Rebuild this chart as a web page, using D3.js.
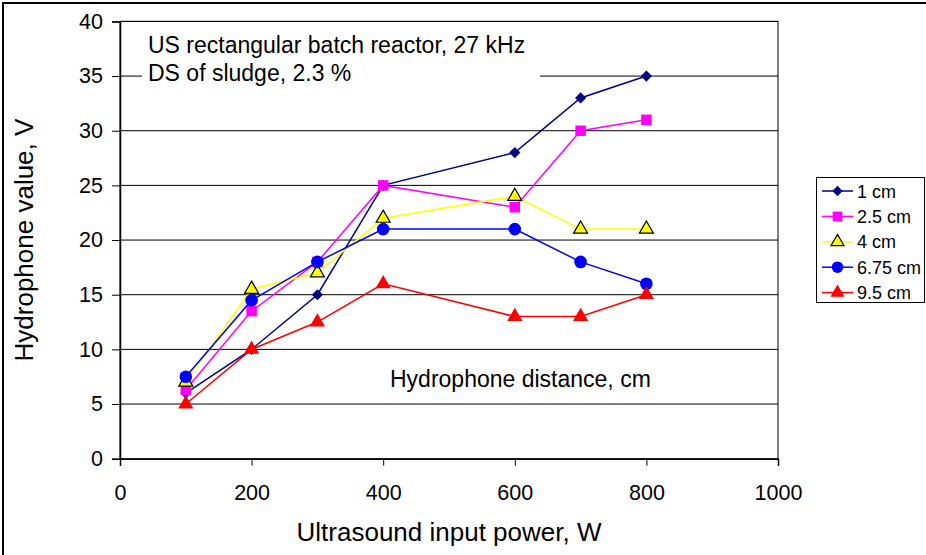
<!DOCTYPE html>
<html><head><meta charset="utf-8">
<script src="https://cdn.jsdelivr.net/npm/d3@7"></script>
<style>body{margin:0;background:#fff}svg{display:block}text{font-family:"Liberation Sans",Arial,sans-serif;fill:#000}</style>
</head><body><svg id="c" width="926" height="555"></svg>
<script>
const powers = [100, 200, 300, 400, 600, 700, 800];
const seriesNames = ["1 cm", "2.5 cm", "4 cm", "6.75 cm", "9.5 cm"];
const v1 = [6, 10, 15, 25, 28, 33, 35];
const v25 = [6.3, 13.5, 18, 25, 23, 30, 31];
const v4 = [7, 15.5, 17, 22, 24, 21, 21];
const v675 = [7.5, 14.5, 18, 21, 21, 18, 16];
const v95 = [5, 10, 12.5, 16, 13, 13, 15];
const xTicks = [0, 200, 400, 600, 800, 1000];
const yTicks = [0, 5, 10, 15, 20, 25, 30, 35, 40];

const styles = [
  {color: "#000080", sym: d3.symbolSquare, size: 62, rot: 45, stroke: "none"},
  {color: "#FF00FF", sym: d3.symbolSquare, size: 110, rot: 0, stroke: "none"},
  {color: "#FFFF00", sym: d3.symbolTriangle, size: 85, rot: 0, stroke: "#000"},
  {color: "#0000FF", sym: d3.symbolCircle, size: 125, rot: 0, stroke: "none"},
  {color: "#FF0000", sym: d3.symbolTriangle, size: 100, rot: 0, stroke: "none"}
];
const allVals = [v1, v25, v4, v675, v95];

const svg = d3.select("#c");
const L = 120, R = 778, T = 21.4, B = 458.7;
const x = d3.scaleLinear().domain([0, 1000]).range([L, R]);
const y = d3.scaleLinear().domain([0, 40]).range([B, T]);

// outer border
svg.append("rect").attr("x", 3).attr("y", 3).attr("width", 940).attr("height", 570)
  .attr("fill", "none").attr("stroke", "#000").attr("stroke-width", 2);

// gridlines
svg.append("g").selectAll("line").data(yTicks.slice(1)).join("line")
  .attr("x1", L).attr("x2", R).attr("y1", d => y(d)).attr("y2", d => y(d))
  .attr("stroke", "#000").attr("stroke-width", 1);

// plot border
svg.append("rect").attr("x", L).attr("y", T).attr("width", R - L).attr("height", B - T)
  .attr("fill", "none").attr("stroke", "#000").attr("stroke-width", 1);

// annotation background
svg.append("rect").attr("x", 142).attr("y", 30).attr("width", 398).attr("height", 62).attr("fill", "#fff");
svg.append("text").attr("x", 148).attr("y", 53).attr("font-size", 23).text("US rectangular batch reactor, 27 kHz");
svg.append("text").attr("x", 148).attr("y", 81).attr("font-size", 23).text("DS of sludge, 2.3 %");
svg.append("text").attr("x", 390).attr("y", 387).attr("font-size", 23).text("Hydrophone distance, cm");

// axes
const xa = svg.append("g").attr("transform", `translate(0,${B})`)
  .call(d3.axisBottom(x).tickValues(xTicks).tickSize(7).tickPadding(19).tickFormat(d3.format("d")));
const ya = svg.append("g").attr("transform", `translate(${L},0)`)
  .call(d3.axisLeft(y).tickValues(yTicks).tickSize(8).tickPadding(9).tickFormat(d3.format("d")));
[xa, ya].forEach(a => {
  a.select(".domain").attr("stroke", "#000").attr("stroke-width", 1.5);
  a.selectAll(".tick line").attr("stroke", "#000");
  a.selectAll(".tick text").attr("font-size", 21.5).attr("font-family", '"Liberation Sans",Arial,sans-serif').attr("fill", "#000");
});

svg.append("text").attr("x", (L + R) / 2).attr("y", 541).attr("text-anchor", "middle").attr("font-size", 26)
  .text("Ultrasound input power, W");
svg.append("text").attr("transform", `translate(33,${(T + B) / 2}) rotate(-90)`).attr("text-anchor", "middle").attr("font-size", 26)
  .text("Hydrophone value, V");

// series
const line = d3.line().x((d, i) => x(powers[i])).y(d => y(d));
allVals.forEach((vals, si) => {
  const st = styles[si];
  const g = svg.append("g");
  g.append("path").attr("d", line(vals)).attr("fill", "none").attr("stroke", st.color).attr("stroke-width", 1.5);
  g.selectAll("path.m").data(vals).join("path").attr("class", "m")
    .attr("transform", (d, i) => `translate(${x(powers[i])},${y(d)}) rotate(${st.rot})`)
    .attr("d", d3.symbol().type(st.sym).size(st.size))
    .attr("fill", st.color).attr("stroke", st.stroke).attr("stroke-width", 1.2);
});

// legend
const lg = svg.append("g");
lg.append("rect").attr("x", 816.5).attr("y", 177.5).attr("width", 108).attr("height", 125)
  .attr("fill", "#fff").attr("stroke", "#000").attr("stroke-width", 1);
seriesNames.forEach((n, i) => {
  const st = styles[i];
  const cy = 191 + i * 25.4;
  lg.append("line").attr("x1", 822).attr("x2", 853).attr("y1", cy).attr("y2", cy).attr("stroke", st.color).attr("stroke-width", 1.5);
  lg.append("path").attr("transform", `translate(837.5,${cy}) rotate(${st.rot})`).attr("d", d3.symbol().type(st.sym).size(st.size * 0.85))
    .attr("fill", st.color).attr("stroke", st.stroke).attr("stroke-width", 1.2);
  lg.append("text").attr("x", 857).attr("y", cy + 6.5).attr("font-size", 18).text(n);
});
</script></body></html>
